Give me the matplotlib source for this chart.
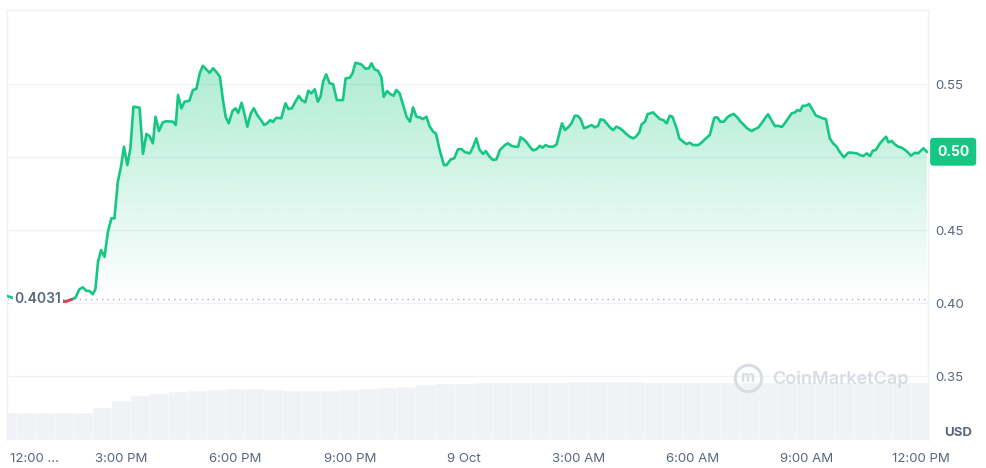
import numpy as np
import matplotlib
matplotlib.use('Agg')
import matplotlib.pyplot as plt
from matplotlib.lines import Line2D
from matplotlib.patches import Polygon

plt.rcParams['font.family'] = ['Inter', 'DejaVu Sans']

# Price data: hours since 8 Oct 12:00 PM, price in USD
hours = [
    0.00, 0.33, 0.98, 1.54, 1.69, 1.80, 1.90, 1.99, 2.08, 2.17, 2.25, 2.32, 2.39, 2.47, 2.56, 2.65,
    2.74, 2.82, 2.91, 3.00, 3.07, 3.16, 3.24, 3.32, 3.48, 3.57, 3.66, 3.74, 3.83, 3.90, 3.99, 4.09,
    4.18, 4.36, 4.43, 4.49, 4.58, 4.66, 4.79, 4.88, 4.97, 5.06, 5.14, 5.23, 5.32, 5.41, 5.50, 5.59,
    5.67, 5.74, 5.82, 5.92, 6.00, 6.07, 6.16, 6.24, 6.31, 6.40, 6.48, 6.57, 6.68, 6.75, 6.83, 6.91,
    6.98, 7.07, 7.20, 7.31, 7.39, 7.48, 7.57, 7.66, 7.74, 7.83, 7.91, 7.99, 8.08, 8.16, 8.23, 8.30,
    8.38, 8.47, 8.56, 8.66, 8.82, 8.89, 9.00, 9.07, 9.15, 9.30, 9.41, 9.50, 9.57, 9.65, 9.74, 9.83,
    9.89, 9.98, 10.07, 10.15, 10.22, 10.31, 10.40, 10.49, 10.58, 10.66, 10.75, 10.84, 10.92, 11.01,
    11.10, 11.19, 11.26, 11.36, 11.47, 11.54, 11.65, 11.74, 11.84, 11.93, 12.02, 12.15, 12.24, 12.32,
    12.41, 12.50, 12.57, 12.67, 12.76, 12.85, 12.94, 13.07, 13.15, 13.24, 13.33, 13.42, 13.48, 13.57,
    13.65, 13.74, 13.81, 13.90, 13.99, 14.06, 14.14, 14.23, 14.34, 14.43, 14.49, 14.57, 14.65, 14.73,
    14.82, 14.91, 14.99, 15.06, 15.15, 15.26, 15.35, 15.43, 15.52, 15.58, 15.67, 15.74, 15.83, 15.91,
    16.00, 16.09, 16.18, 16.26, 16.35, 16.44, 16.51, 16.60, 16.66, 16.75, 16.82, 16.89, 16.96, 17.05,
    17.14, 17.23, 17.32, 17.40, 17.47, 17.58, 17.65, 17.75, 17.84, 17.93, 18.01, 18.15, 18.23, 18.32,
    18.45, 18.57, 18.65, 18.73, 18.82, 18.91, 19.00, 19.08, 19.17, 19.26, 19.35, 19.43, 19.55, 19.63,
    19.72, 19.81, 19.90, 19.98, 20.07, 20.16, 20.25, 20.34, 20.42, 20.51, 20.60, 20.69, 20.75, 20.82,
    20.89, 20.97, 21.06, 21.15, 21.24, 21.32, 21.41, 21.50, 21.60, 21.69, 21.78, 21.86, 21.97, 22.09,
    22.17, 22.31, 22.39, 22.48, 22.57, 22.66, 22.73, 22.81, 22.92, 23.01, 23.08, 23.14, 23.23, 23.31,
    23.40, 23.49, 23.58, 23.66, 23.73, 23.84, 23.92, 24.06, 24.15,
]
prices = [
    0.4050, 0.4023, 0.4016, 0.4012, 0.4026, 0.4040, 0.4096, 0.4110, 0.4086, 0.4084, 0.4062, 0.4096, 0.4285, 0.4365, 0.4319, 0.4490,
    0.4582, 0.4582, 0.4833, 0.4947, 0.5073, 0.4947, 0.5062, 0.5347, 0.5340, 0.5023, 0.5160, 0.5146, 0.5096, 0.5278, 0.5180, 0.5240,
    0.5247, 0.5244, 0.5221, 0.5427, 0.5336, 0.5381, 0.5388, 0.5461, 0.5468, 0.5575, 0.5627, 0.5603, 0.5579, 0.5610, 0.5584, 0.5552,
    0.5392, 0.5278, 0.5233, 0.5317, 0.5336, 0.5305, 0.5374, 0.5290, 0.5210, 0.5301, 0.5336, 0.5290, 0.5251, 0.5221, 0.5233, 0.5255,
    0.5242, 0.5271, 0.5267, 0.5370, 0.5331, 0.5336, 0.5381, 0.5420, 0.5392, 0.5377, 0.5456, 0.5438, 0.5466, 0.5381, 0.5415, 0.5518,
    0.5568, 0.5507, 0.5502, 0.5392, 0.5392, 0.5541, 0.5545, 0.5575, 0.5648, 0.5637, 0.5607, 0.5610, 0.5644, 0.5603, 0.5593, 0.5548,
    0.5415, 0.5454, 0.5432, 0.5422, 0.5461, 0.5438, 0.5358, 0.5278, 0.5244, 0.5342, 0.5278, 0.5274, 0.5262, 0.5278,
    0.5210, 0.5175, 0.5164, 0.5050, 0.4947, 0.4947, 0.4986, 0.4993, 0.5055, 0.5057, 0.5036, 0.5027, 0.5073, 0.5130,
    0.5050, 0.5023, 0.5043, 0.5004, 0.4982, 0.4986, 0.5050, 0.5084, 0.5096, 0.5079, 0.5073, 0.5073, 0.5137, 0.5123,
    0.5100, 0.5068, 0.5048, 0.5055, 0.5079, 0.5066, 0.5084, 0.5073, 0.5073, 0.5089, 0.5153, 0.5233, 0.5187, 0.5205,
    0.5233, 0.5285, 0.5283, 0.5262, 0.5199, 0.5210, 0.5221, 0.5205, 0.5216, 0.5260, 0.5255, 0.5233, 0.5205, 0.5187,
    0.5210, 0.5199, 0.5180, 0.5160, 0.5141, 0.5130, 0.5141, 0.5171, 0.5226, 0.5244, 0.5297, 0.5301, 0.5308, 0.5285,
    0.5262, 0.5255, 0.5233, 0.5285, 0.5278, 0.5199, 0.5130, 0.5107, 0.5091, 0.5100, 0.5084, 0.5084, 0.5100, 0.5123,
    0.5153, 0.5271, 0.5274, 0.5244, 0.5244, 0.5274, 0.5290, 0.5297, 0.5274, 0.5244, 0.5221, 0.5199, 0.5180, 0.5192,
    0.5203, 0.5233, 0.5267, 0.5295, 0.5255, 0.5214, 0.5216, 0.5208, 0.5233, 0.5267, 0.5301, 0.5308, 0.5324, 0.5317,
    0.5353, 0.5353, 0.5365, 0.5324, 0.5285, 0.5278, 0.5267, 0.5262, 0.5130, 0.5096, 0.5073, 0.5038, 0.5000, 0.5032,
    0.5032, 0.5027, 0.5016, 0.5009, 0.5027, 0.5009, 0.5045, 0.5050, 0.5096, 0.5123, 0.5141, 0.5103, 0.5112, 0.5089,
    0.5073, 0.5066, 0.5050, 0.5032, 0.5011, 0.5032, 0.5027, 0.5062, 0.5038,
]
open_price = 0.4031

# Volume (USD M) every 30 minutes
vol_hours = [h * 0.5 for h in range(49)]
volume = [
    13.5, 13.5, 13.5, 13.5, 13.5,
    16.0, 19.5, 22.0, 23.25, 24.0, 24.5, 25.25, 25.75, 25.75, 25.0, 24.5, 24.5, 24.75, 25.0, 25.5,
    26.0, 26.75, 27.5, 28.0, 28.25,
    28.5, 28.5, 28.75, 28.75, 28.75, 29.0, 29.0, 29.0, 29.0, 28.75, 28.75, 28.5, 28.5, 28.5,
    28.5, 28.5, 28.5, 28.5, 28.5, 28.5, 28.75, 28.75, 28.5, 28.5,
]

yticks = [0.35, 0.40, 0.45, 0.50, 0.55]
xticks = [3, 6, 9, 12, 15, 18, 21, 24]
xlabels = ['3:00 PM', '6:00 PM', '9:00 PM', '9 Oct', '3:00 AM', '6:00 AM', '9:00 AM', '12:00 PM']

green = '#16c784'
red = '#ea3943'
grey_txt = '#58667e'
line_grey = '#eff2f5'

h = np.array(hours)
p = np.array(prices)
assert len(h) == len(p)

fig = plt.figure(figsize=(9.86, 4.68), dpi=100)
ax = fig.add_axes([7 / 986, 28 / 468, 921 / 986, 430 / 468])
ax_v = ax.twinx()
ax.set_zorder(ax_v.get_zorder() + 1)
ax.patch.set_visible(False)

# volume bars in the background
ax_v.bar(vol_hours, volume, width=0.5, color='#f0f2f5', edgecolor='white', linewidth=0.3)
ax_v.set_ylim(0, 215)
ax_v.set_yticks([])
for s in ax_v.spines.values():
    s.set_visible(False)

xmin, xmax = 0, 24.18
ymin, ymax = 0.3064, 0.6009

for yv in yticks:
    ax.axhline(yv, color=line_grey, lw=1, zorder=0)

# gradient fill between the line and the open price
grad = np.linspace(0, 1, 256)
rgba = np.zeros((256, 1, 4))
rgba[..., :3] = matplotlib.colors.to_rgb(green)
rgba[:, 0, 3] = grad * 0.36
img = ax.imshow(rgba, extent=[xmin, xmax, open_price, 0.57], origin='lower',
                aspect='auto', zorder=1)
verts = list(zip(h, p)) + [(h[-1], ymin), (h[0], ymin)]
clip = Polygon(verts, closed=True, transform=ax.transData)
img.set_clip_path(clip)

ax.fill_between(h, p, open_price, where=p < open_price, interpolate=True,
                color=red, alpha=0.12, lw=0, zorder=1)

ax.axhline(open_price, color='#a6b0c3', lw=1, ls=(0, (1, 3)), zorder=2)

ax.plot(h, p, color=green, lw=1.9, zorder=3, solid_joinstyle='round')
p_red = np.ma.masked_where(p >= open_price, p)
ax.plot(h, p_red, color=red, lw=1.9, zorder=4)

ax.set_xlim(xmin, xmax)
ax.set_ylim(ymin, ymax)

# axes styling
last = p[-1]
ax.yaxis.tick_right()
ax.set_yticks(yticks)
# the 0.50 level is shown by the last-price badge
ax.set_yticklabels(['' if abs(v - round(last, 2)) < 1e-9 else f'{v:.2f}' for v in yticks])
ax.tick_params(axis='y', length=0, pad=5, labelsize=9.5, labelcolor=grey_txt)
ax.set_xticks(xticks)
ax.set_xticklabels(xlabels)
ax.tick_params(axis='x', length=0, pad=9, labelsize=9.5, labelcolor=grey_txt)
for side in ['top', 'left', 'right']:
    ax.spines[side].set_color(line_grey)
    ax.spines[side].set_linewidth(1)
ax.spines['bottom'].set_visible(False)

fig.text(10 / 986, 1 - 459 / 468, '12:00 ...', ha='left', va='center',
         fontsize=9.5, color=grey_txt)

# open price label
ax.text(0.2, open_price, f'{open_price:.4f}', ha='left', va='center', fontsize=10,
        color=grey_txt, fontweight='semibold', zorder=6,
        bbox=dict(boxstyle='square,pad=0.15', fc='white', ec='none'))

# last price badge
ax.annotate(f'{last:.2f}', xy=(1, last), xycoords=('axes fraction', 'data'),
            xytext=(6.5, 0), textcoords='offset points', ha='left', va='center',
            fontsize=10, fontweight='bold', color='white', zorder=7,
            bbox=dict(boxstyle='round,pad=0.5,rounding_size=0.25', fc=green, ec='none'),
            annotation_clip=False)

fig.text(958 / 986, 1 - 433 / 468, 'USD', ha='center', va='center', fontsize=9.5,
         fontweight='bold', color=grey_txt)

# watermark
wm = '#d8dce3'
fig.add_artist(Line2D([748 / 986], [1 - 378 / 468], marker='o', markersize=19,
                      mfc='none', mec=wm, mew=2.2, transform=fig.transFigure))
fig.text(748 / 986, 1 - 378 / 468, 'm', ha='center', va='center', fontsize=11,
         fontweight='bold', color=wm)
fig.text(772 / 986, 1 - 379 / 468, 'CoinMarketCap', ha='left', va='center',
         fontsize=13, fontweight='semibold', color=wm)

fig.savefig('out.png', dpi=100)
